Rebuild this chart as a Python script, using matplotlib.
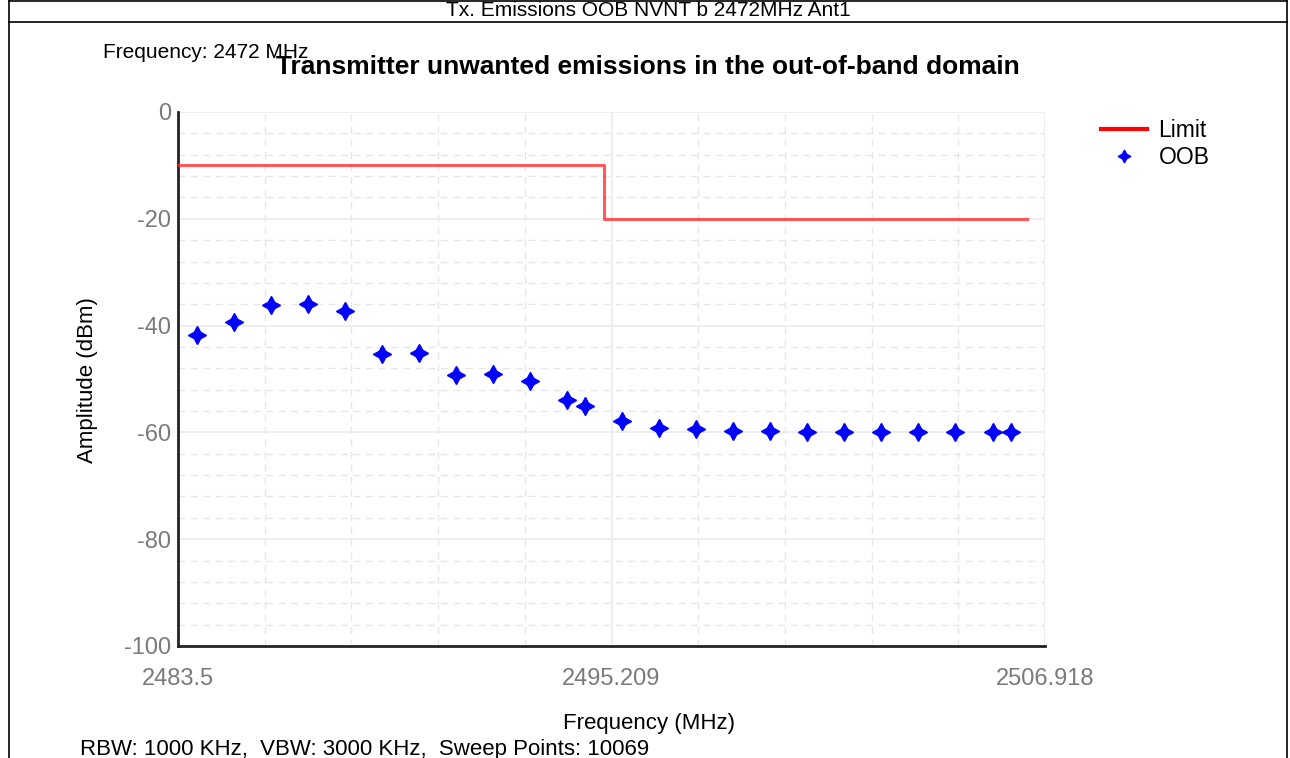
import matplotlib.pyplot as plt
from matplotlib.lines import Line2D
from matplotlib.ticker import FixedLocator, MultipleLocator

plt.rcParams['font.family'] = ['Liberation Sans', 'DejaVu Sans']
plt.rcParams['axes.unicode_minus'] = False

# Limit mask (step at the band edge)
limit_freq = [2483.5, 2495.0, 2495.0, 2506.44]
limit_level = [-10, -10, -20, -20]

# Measured out-of-band emission points
oob_freq = [2484.0, 2485.0, 2486.0, 2487.0, 2488.0, 2489.0, 2490.0, 2491.0,
            2492.0, 2493.0, 2494.0, 2494.5, 2495.5, 2496.5, 2497.5, 2498.5,
            2499.5, 2500.5, 2501.5, 2502.5, 2503.5, 2504.5, 2505.5, 2506.0]
oob_level = [-41.7, -39.3, -36.2, -35.9, -37.3, -45.4, -45.2, -49.3,
             -49.0, -50.4, -53.9, -55.0, -57.9, -59.1, -59.4, -59.7,
             -59.8, -59.9, -59.9, -59.9, -59.9, -59.9, -59.9, -59.9]

x_ticks = [2483.5, 2495.209, 2506.918]
x_tick_labels = ['2483.5', '2495.209', '2506.918']
y_ticks = [0, -20, -40, -60, -80, -100]

W, H = 1290, 758
fig = plt.figure(figsize=(W / 100, H / 100), dpi=100)


def fx(px):
    return px / W


def fy(py):
    return 1 - py / H


# outer frame and header separator
for xs, ys in [([9, 9], [0, H]), ([1287, 1287], [0, H]),
               ([9, 1287], [0.5, 0.5]), ([9, 1287], [22, 22])]:
    fig.add_artist(Line2D([fx(x) for x in xs], [fy(y) for y in ys],
                          color='black', lw=1.2))

fig.text(fx(648), fy(11), 'Tx. Emissions OOB NVNT b 2472MHz Ant1',
         ha='center', va='center', fontsize=15)

ax = fig.add_axes([fx(178), fy(646), fx(1045) - fx(178), fy(112) - fy(646)])

ax.plot(limit_freq, limit_level, color='#ff3030', lw=2.2, alpha=0.8,
        label='Limit', zorder=3)
ax.plot(oob_freq, oob_level, linestyle='none', marker=(4, 1, 0),
        markersize=13, color='#0000ff', label='OOB', zorder=4)

xmin, xmax = 2483.5, 2506.918
ax.set_xlim(xmin, xmax)
ax.set_ylim(-100, 0)
ax.xaxis.set_major_locator(FixedLocator(x_ticks))
ax.set_xticklabels(x_tick_labels)
step = (xmax - xmin) / 10
ax.xaxis.set_minor_locator(FixedLocator([xmin + i * step for i in range(1, 10) if i != 5]))
ax.yaxis.set_major_locator(FixedLocator(y_ticks))
ax.yaxis.set_minor_locator(MultipleLocator(4))

ax.grid(which='major', color='#ebebeb', lw=1.2, linestyle='-')
ax.grid(which='minor', color='#e6e6e6', lw=1.0, linestyle=(0, (5, 4)))
ax.set_axisbelow(True)

ax.tick_params(which='both', length=0)
ax.tick_params(axis='y', labelsize=17, labelcolor='#7a7a7a', pad=5)
ax.tick_params(axis='x', labelsize=17, labelcolor='#7a7a7a', pad=16)

for side in ['top', 'right']:
    ax.spines[side].set_visible(False)
for side in ['left', 'bottom']:
    ax.spines[side].set_color('#222222')
    ax.spines[side].set_linewidth(2)

ax.legend(loc='upper left', frameon=False, fontsize=16.5, handlelength=2.0,
          handletextpad=0.5, labelspacing=0.15, borderaxespad=0,
          markerscale=0.7)
leg = ax.get_legend()
leg.set_bbox_to_anchor((fx(1092), fy(110)), transform=fig.transFigure)
for line in leg.get_lines():
    if line.get_label() == 'Limit':
        line.set_color('#ff0000')
        line.set_alpha(1)
        line.set_linewidth(3)

fig.text(fx(103), fy(52), 'Frequency: 2472 MHz', ha='left', va='center',
         fontsize=15)
fig.text(fx(648), fy(67), 'Transmitter unwanted emissions in the out-of-band domain',
         ha='center', va='center', fontsize=19, fontweight='bold')
fig.text(fx(88), fy(380), 'Amplitude (dBm)', rotation=90, ha='center',
         va='center', fontsize=16)
fig.text(fx(649), fy(724), 'Frequency (MHz)', ha='center', va='center',
         fontsize=16)
fig.text(fx(80), fy(749), 'RBW: 1000 KHz,  VBW: 3000 KHz,  Sweep Points: 10069',
         ha='left', va='center', fontsize=16)

fig.savefig('out.png', dpi=100)
